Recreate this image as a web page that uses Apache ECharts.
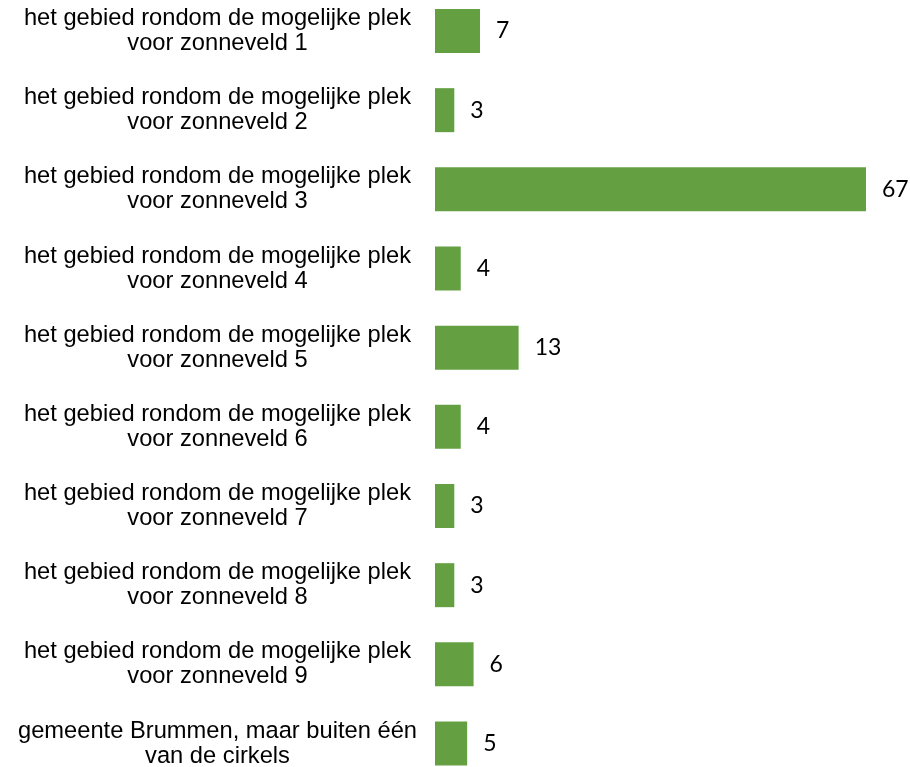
<!DOCTYPE html>
<html>
<head>
<meta charset="utf-8">
<script src="https://cdn.jsdelivr.net/npm/echarts@6/dist/echarts.min.js"></script>
<style>html,body{margin:0;padding:0;background:#fff}#c{width:910px;height:767px}</style>
</head>
<body>
<div id="c"></div>
<script>
const categories = [
  "het gebied rondom de mogelijke plek\nvoor zonneveld 1",
  "het gebied rondom de mogelijke plek\nvoor zonneveld 2",
  "het gebied rondom de mogelijke plek\nvoor zonneveld 3",
  "het gebied rondom de mogelijke plek\nvoor zonneveld 4",
  "het gebied rondom de mogelijke plek\nvoor zonneveld 5",
  "het gebied rondom de mogelijke plek\nvoor zonneveld 6",
  "het gebied rondom de mogelijke plek\nvoor zonneveld 7",
  "het gebied rondom de mogelijke plek\nvoor zonneveld 8",
  "het gebied rondom de mogelijke plek\nvoor zonneveld 9",
  "gemeente Brummen, maar buiten één\nvan de cirkels"
];
const values = [7, 3, 67, 4, 13, 4, 3, 3, 6, 5];

const chart = echarts.init(document.getElementById('c'), null, {renderer: 'canvas'});
chart.setOption({
  animation: false,
  backgroundColor: '#ffffff',
  grid: {left: 435, width: 450.3, top: -8.6, height: 791.7, containLabel: false, outerBoundsMode: 'none'},
  xAxis: {type: 'value', min: 0, max: 70, show: false},
  yAxis: {
    type: 'category', data: categories, inverse: true,
    axisLine: {show: false}, axisTick: {show: false},
    axisLabel: {
      align: 'center', margin: 217.5,
      fontFamily: '"Liberation Sans", Arial, sans-serif', fontSize: 23.7, lineHeight: 25,
      color: '#000000', padding: [2, 0, 0, 0]
    }
  },
  series: [{
    type: 'bar', data: values, barWidth: 44,
    itemStyle: {color: '#64A042'},
    label: {
      show: true, position: 'right', distance: 16,
      fontFamily: 'Lato, "Open Sans", sans-serif', fontSize: 23, color: '#000000'
    }
  }]
});
</script>
</body>
</html>
